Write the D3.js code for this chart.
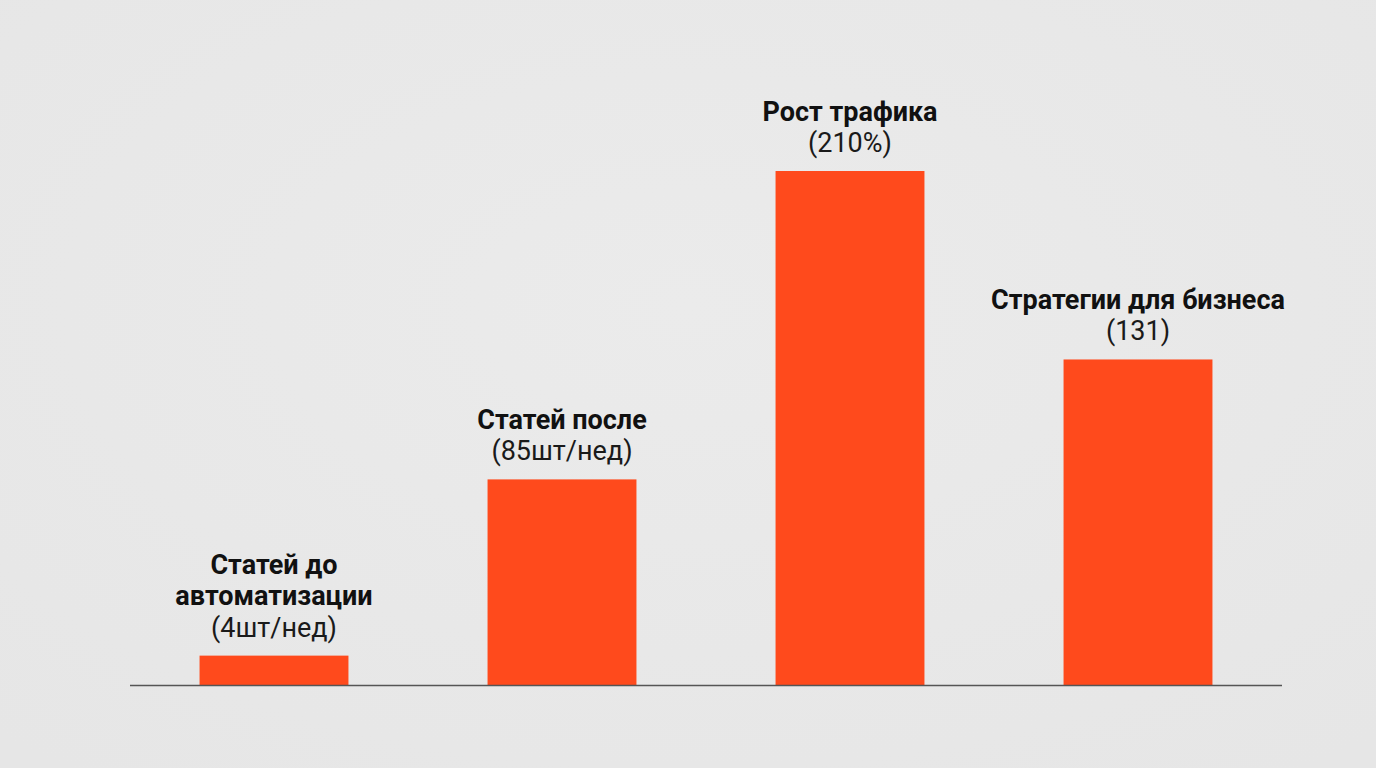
<!DOCTYPE html>
<html>
<head>
<meta charset="utf-8">
<script src="https://cdn.jsdelivr.net/npm/d3@7"></script>
<style>
    html, body { margin: 0; padding: 0; }
    body { width: 1376px; height: 768px; overflow: hidden; background: #e9e9e9; }
</style>
</head>
<body>
<svg id="chart"></svg>
<script>
// bar data (heights relative to the 210 bar)
const categories = ["a", "b", "c", "d"];
const barValues = [12, 84, 210, 133];
const titleLines = [
    ["Статей до", "автоматизации"],
    ["Статей после"],
    ["Рост трафика"],
    ["Стратегии для бизнеса"]
];
const valueLabels = ["(4шт/нед)", "(85шт/нед)", "(210%)", "(131)"];

const w = 1376, h = 768;
const left = 130, right = 1282, baseY = 685, topY = 171;
const lineGap = 31.5;

let svg = d3.select("#chart")
    .attr("width", w)
    .attr("height", h);

// soft light background
let defs = svg.append("defs");
let grad = defs.append("radialGradient")
    .attr("id", "bg")
    .attr("cx", "50%").attr("cy", "40%").attr("r", "75%");
grad.append("stop").attr("offset", "0%").attr("stop-color", "#ebebeb");
grad.append("stop").attr("offset", "100%").attr("stop-color", "#e6e6e6");
svg.append("rect")
    .attr("width", w).attr("height", h)
    .attr("fill", "url(#bg)");

let x = d3.scaleBand()
    .domain(categories)
    .range([left, right])
    .paddingInner(0.483)
    .paddingOuter(0.2415);

let y = d3.scaleLinear()
    .domain([0, 210])
    .range([baseY, topY]);

svg.selectAll("rect.bar")
    .data(barValues)
    .enter()
    .append("rect")
    .attr("class", "bar")
    .attr("x", (d, i) => x(categories[i]))
    .attr("y", d => y(d))
    .attr("width", x.bandwidth())
    .attr("height", d => y(0) - y(d))
    .attr("fill", "#ff4a1c");

// baseline
svg.append("line")
    .attr("x1", left).attr("x2", right)
    .attr("y1", baseY + 0.5).attr("y2", baseY + 0.5)
    .attr("stroke", "#555")
    .attr("stroke-width", 1.5);

let labels = svg.selectAll("g.lbl")
    .data(barValues)
    .enter()
    .append("g")
    .attr("class", "lbl")
    .attr("transform", (d, i) => `translate(${x(categories[i]) + x.bandwidth() / 2},${y(d) - 19})`);

labels.append("text")
    .text((d, i) => valueLabels[i])
    .attr("text-anchor", "middle")
    .attr("font-family", "Roboto, sans-serif")
    .attr("font-size", "27px")
    .attr("fill", "#1a1a1a");

labels.each(function(d, i) {
    let g = d3.select(this);
    let lines = titleLines[i];
    lines.forEach((t, j) => {
        g.append("text")
            .text(t)
            .attr("y", -lineGap * (lines.length - j))
            .attr("text-anchor", "middle")
            .attr("font-family", "Roboto, sans-serif")
            .attr("font-weight", "bold")
            .attr("font-size", "27px")
            .attr("fill", "#111");
    });
});
</script>
</body>
</html>
